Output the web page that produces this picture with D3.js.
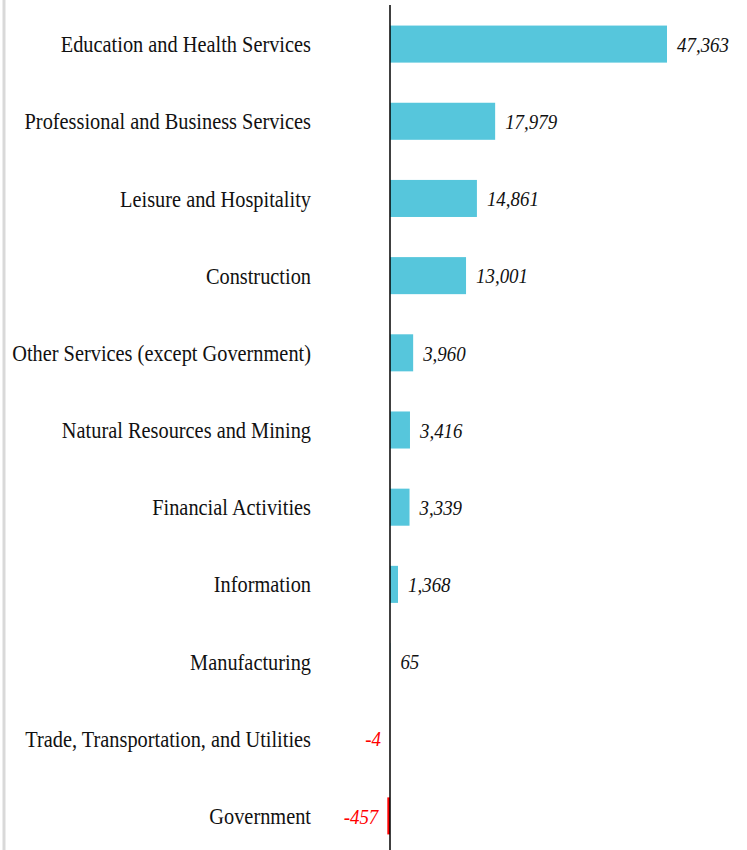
<!DOCTYPE html>
<html>
<head>
<meta charset="utf-8">
<script src="https://cdn.jsdelivr.net/npm/d3@7"></script>
<style>
body{margin:0;background:#fff}
svg text{font-family:"Liberation Serif","Times New Roman",serif}
</style>
</head>
<body>
<svg id="chart" width="747" height="850"></svg>
<script>
var categories = ["Education and Health Services","Professional and Business Services","Leisure and Hospitality","Construction","Other Services (except Government)","Natural Resources and Mining","Financial Activities","Information","Manufacturing","Trade, Transportation, and Utilities","Government"]
var values = [47363,17979,14861,13001,3960,3416,3339,1368,65,-4,-457]

function draw(){
	var svg = d3.select('svg#chart')
	var squeeze_cat = 0.885, squeeze_val = 0.86
	var x = d3.scaleLinear()
		.domain([0, 47363])
		.range([390, 667])
	var y = d3.scaleBand()
		.domain(categories)
		.range([5.5, 854.5])
		.paddingInner(0.52)
		.paddingOuter(0.26)
	var rows = categories.map(function(c, i){return {name: c, value: values[i]}})
	var fmt = d3.formatLocale({decimal: '.', thousands: ',', grouping: [3], currency: ['$', ''], minus: '-'}).format(',')

	// light frame edge on the left
	svg.append('line')
		.attr('x1', 4).attr('x2', 4)
		.attr('y1', 0).attr('y2', 850)
		.style('stroke', '#d9d9d9')
		.style('stroke-width', 3)

	svg.selectAll('rect.bar')
		.data(rows)
		.enter()
		.append('rect')
		.attr('class', 'bar')
		.attr('x', function(d){return x(Math.min(0, d.value))})
		.attr('y', function(d){return y(d.name)})
		.attr('width', function(d){return Math.abs(x(d.value) - x(0))})
		.attr('height', y.bandwidth())
		.style('fill', function(d){return d.value < 0 ? '#ff0000' : '#56c6dc'})

	svg.append('line')
		.attr('x1', x(0)).attr('x2', x(0))
		.attr('y1', 5).attr('y2', 850)
		.style('stroke', '#000')
		.style('stroke-width', 1.5)

	svg.selectAll('text.cat')
		.data(rows)
		.enter()
		.append('text')
		.attr('class', 'cat')
		.attr('transform', function(d){return 'translate(311,' + (y(d.name) + y.bandwidth() / 2) + ') scale(' + squeeze_cat + ',1)'})
		.attr('dy', '0.35em')
		.attr('text-anchor', 'end')
		.style('font-size', '23px')
		.style('fill', '#111')
		.text(function(d){return d.name})

	svg.selectAll('text.val')
		.data(rows)
		.enter()
		.append('text')
		.attr('class', 'val')
		.attr('transform', function(d){
			var px = d.value < 0 ? x(d.value) - 9 : x(d.value) + 10
			return 'translate(' + px + ',' + (y(d.name) + y.bandwidth() / 2) + ') scale(' + squeeze_val + ',1)'
		})
		.attr('dy', '0.35em')
		.attr('text-anchor', function(d){return d.value < 0 ? 'end' : 'start'})
		.style('font-size', '22px')
		.style('font-style', 'italic')
		.style('fill', function(d){return d.value < 0 ? '#ff0000' : '#111'})
		.text(function(d){return fmt(d.value)})
}
draw()
</script>
</body>
</html>
